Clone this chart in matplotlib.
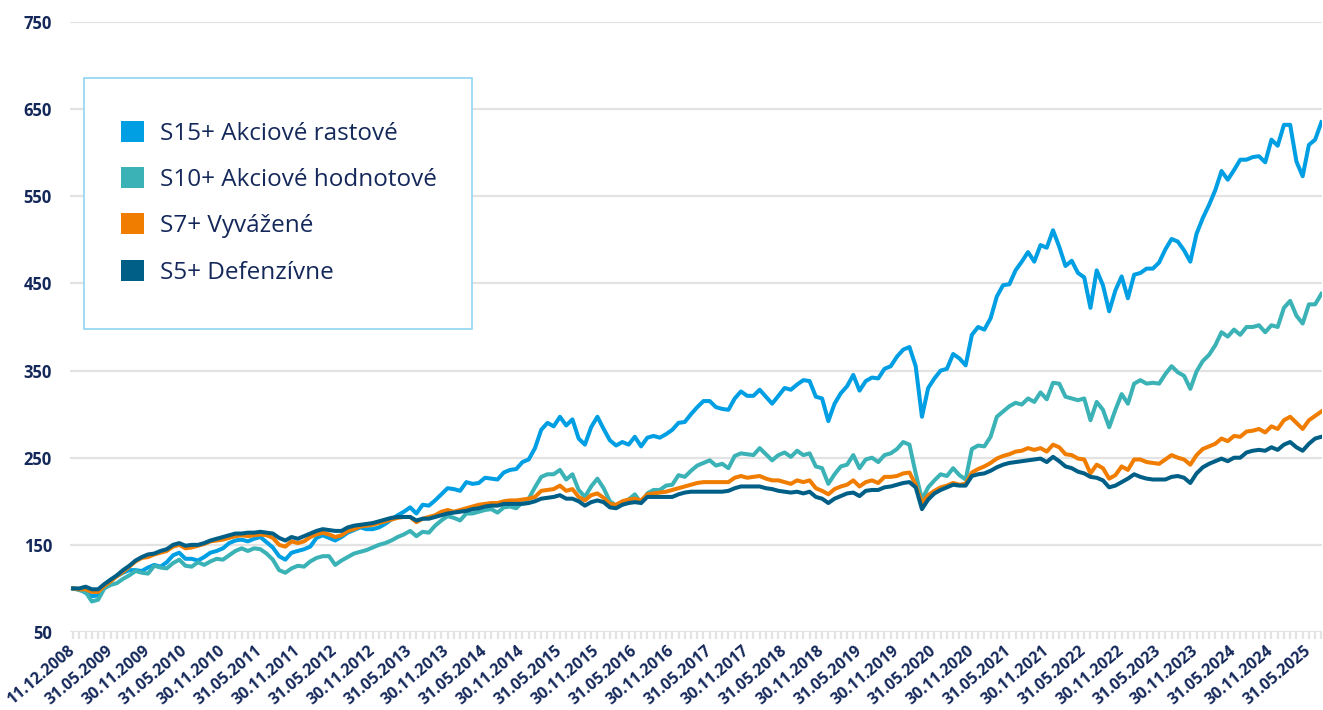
"""
plot.py - Vývoj hodnoty dôchodkových stratégií (index, 11.12.2008 = 100).
"""
import matplotlib
matplotlib.use("Agg")
import matplotlib.pyplot as plt
from matplotlib.patches import Patch, Rectangle
import numpy as np

# tick labels every 6 months (first point is 11.12.2008, then month ends)
tick_labels = [
    "11.12.2008", "31.05.2009", "30.11.2009", "31.05.2010", "30.11.2010",
    "31.05.2011", "30.11.2011", "31.05.2012", "30.11.2012", "31.05.2013",
    "30.11.2013", "31.05.2014", "30.11.2014", "31.05.2015", "30.11.2015",
    "31.05.2016", "30.11.2016", "31.05.2017", "30.11.2017", "31.05.2018",
    "30.11.2018", "31.05.2019", "30.11.2019", "31.05.2020", "30.11.2020",
    "31.05.2021", "30.11.2021", "31.05.2022", "30.11.2022", "31.05.2023",
    "30.11.2023", "31.05.2024", "30.11.2024", "31.05.2025",
]
y_ticks = [50, 150, 250, 350, 450, 550, 650, 750]

series_names = ["S15+ Akciové rastové", "S10+ Akciové hodnotové",
                "S7+ Vyvážené", "S5+ Defenzívne"]

s15 = [
    100, 99, 95, 91, 92, 104, 110, 114, 118, 121,
    121, 120, 124, 127, 125, 130, 138, 141, 134, 134,
    132, 136, 141, 143, 146, 152, 155, 156, 154, 157,
    159, 153, 147, 137, 133, 141, 143, 145, 148, 158,
    161, 158, 155, 159, 164, 167, 170, 168, 168, 170,
    174, 179, 184, 188, 193, 186, 196, 195, 201, 208,
    215, 214, 212, 222, 220, 221, 227, 226, 225, 233,
    236, 237, 245, 248, 261, 282, 290, 286, 297, 287,
    294, 272, 265, 285, 297, 283, 270, 264, 268, 265,
    274, 263, 273, 275, 273, 277, 282, 290, 291, 300,
    308, 315, 315, 308, 306, 305, 318, 326, 321, 321,
    328, 320, 312, 321, 330, 328, 334, 339, 338, 320,
    318, 292, 312, 324, 332, 345, 327, 338, 342, 341,
    352, 355, 366, 374, 377, 355, 297, 330, 341, 350,
    352, 369, 364, 356, 391, 400, 397, 410, 435, 448,
    449, 465, 475, 486, 475, 494, 491, 511, 492, 470,
    476, 462, 457, 422, 465, 448, 418, 442, 458, 433,
    460, 462, 467, 467, 474, 489, 501, 498, 488, 475,
    507, 525, 540, 557, 579, 569, 580, 592, 592, 595,
    596, 589, 615, 608, 632, 632, 590, 573, 609, 615,
    635,
]

s10 = [
    100, 98, 96, 85, 87, 100, 104, 106, 111, 115,
    120, 118, 117, 126, 124, 123, 129, 133, 126, 125,
    130, 127, 131, 134, 133, 138, 143, 146, 143, 146,
    145, 140, 133, 121, 118, 123, 126, 125, 131, 135,
    137, 137, 127, 132, 136, 140, 142, 144, 147, 150,
    152, 155, 159, 162, 166, 160, 165, 164, 172, 178,
    183, 181, 178, 186, 186, 188, 190, 191, 187, 193,
    194, 192, 199, 203, 216, 228, 231, 231, 236, 225,
    231, 213, 205, 217, 226, 215, 200, 195, 199, 202,
    208, 198, 209, 213, 213, 218, 219, 230, 228, 235,
    241, 244, 247, 241, 243, 238, 252, 255, 254, 253,
    261, 254, 247, 253, 256, 251, 258, 253, 255, 240,
    238, 220, 231, 240, 242, 253, 238, 248, 250, 245,
    253, 255, 260, 268, 265, 232, 202, 216, 224, 231,
    229, 238, 230, 225, 260, 264, 263, 274, 297, 303,
    309, 313, 311, 318, 314, 325, 317, 336, 335, 320,
    318, 316, 318, 293, 314, 305, 285, 305, 323, 312,
    335, 339, 335, 336, 335, 346, 355, 348, 344, 329,
    349, 361, 368, 379, 394, 389, 397, 391, 400, 400,
    402, 394, 402, 400, 422, 430, 413, 404, 426, 426,
    438,
]

s7 = [
    100, 99, 99, 96, 96, 103, 108, 114, 119, 125,
    131, 135, 136, 139, 141, 143, 148, 150, 146, 147,
    149, 151, 154, 155, 156, 158, 160, 161, 160, 161,
    162, 161, 158, 150, 148, 154, 152, 154, 159, 162,
    164, 162, 159, 161, 166, 168, 171, 172, 173, 175,
    177, 179, 181, 182, 182, 176, 180, 182, 184, 188,
    190, 188, 190, 192, 194, 196, 197, 198, 198, 200,
    201, 201, 202, 203, 205, 212, 213, 214, 218, 212,
    214, 205, 201, 207, 209, 204, 197, 196, 200, 202,
    203, 201, 208, 209, 210, 211, 213, 215, 217, 219,
    221, 222, 222, 222, 222, 222, 227, 229, 227, 228,
    229, 226, 224, 224, 222, 220, 224, 222, 224, 215,
    212, 208, 214, 217, 219, 224, 217, 222, 224, 221,
    228, 228, 229, 232, 233, 219, 198, 207, 212, 216,
    218, 221, 219, 220, 233, 237, 240, 244, 249, 252,
    254, 257, 258, 261, 259, 261, 257, 265, 262, 254,
    253, 249, 248, 232, 242, 238, 226, 230, 240, 236,
    248, 248, 245, 244, 243, 248, 253, 250, 248, 242,
    253, 260, 263, 266, 272, 269, 275, 274, 280, 281,
    283, 279, 286, 283, 293, 297, 290, 283, 293, 298,
    303,
]

s5 = [
    100, 100, 102, 99, 99, 105, 110, 115, 121, 126,
    132, 136, 139, 140, 143, 145, 150, 152, 149, 150,
    150, 152, 155, 157, 159, 161, 163, 163, 164, 164,
    165, 164, 163, 158, 155, 159, 157, 160, 163, 166,
    168, 167, 166, 166, 170, 172, 173, 174, 175, 177,
    179, 181, 182, 182, 182, 178, 180, 180, 182, 184,
    186, 187, 188, 189, 191, 192, 194, 195, 195, 197,
    197, 197, 197, 198, 200, 203, 204, 205, 207, 203,
    203, 200, 195, 199, 201, 199, 193, 192, 196, 198,
    199, 198, 205, 205, 205, 205, 205, 208, 210, 211,
    211, 211, 211, 211, 211, 212, 215, 217, 217, 217,
    217, 215, 214, 212, 211, 210, 211, 209, 211, 205,
    203, 198, 203, 206, 209, 210, 206, 212, 213, 213,
    216, 217, 219, 221, 222, 216, 191, 202, 209, 213,
    216, 219, 218, 218, 229, 231, 232, 235, 239, 242,
    244, 245, 246, 247, 248, 249, 245, 251, 246, 240,
    238, 234, 232, 228, 227, 224, 216, 218, 222, 226,
    231, 228, 226, 225, 225, 225, 228, 229, 227, 221,
    232, 239, 243, 246, 249, 246, 250, 250, 256, 258,
    259, 258, 262, 259, 265, 268, 262, 258, 266, 272,
    274,
]

colors = ["#009fe3", "#3ab2b6", "#f07d00", "#005f87"]
navy = "#14285a"
grid_col = "#e3e3e3"

plt.rcParams["font.family"] = ["Open Sans", "DejaVu Sans"]

W, H = 1323, 710
fig = plt.figure(figsize=(W / 100, H / 100), dpi=100)
ax = fig.add_axes([70 / W, 1 - 632 / H, 1252 / W, 610 / H])

x = np.arange(len(s15))
for vals, col in zip([s15, s10, s7, s5], colors):
    ax.plot(x, vals, color=col, lw=2.9, solid_joinstyle="round", zorder=3)

ax.set_ylim(50, 750)
ax.set_xlim(-0.5, len(s15) - 0.9)
ax.set_yticks(y_ticks, labels=[str(v) for v in y_ticks],
              fontsize=12, fontweight="bold", color=navy)
ax.yaxis.grid(True, color=grid_col, lw=1.6, zorder=0)
ax.set_axisbelow(True)
for side in ["top", "right", "left", "bottom"]:
    ax.spines[side].set_visible(False)

ax.set_xticks(np.arange(0, 6 * len(tick_labels), 6))
ax.set_xticklabels(tick_labels, rotation=40, ha="right", va="center",
                   rotation_mode="anchor", fontsize=11.5, fontweight="bold",
                   color=navy)
ax.set_xticks(x, minor=True)
ax.tick_params(axis="x", which="both", length=5, width=1.6, color=grid_col, pad=7)
ax.tick_params(axis="y", length=0, pad=13)

# legend box drawn separately so its size matches the original panel
fig.patches.append(Rectangle((84 / W, 1 - 329 / H), 388 / W, 251 / H,
                             transform=fig.transFigure, facecolor="white",
                             edgecolor="#8fd6f2", lw=1.2, zorder=5))
handles = [Patch(facecolor=c, edgecolor="none") for c in colors]
leg = fig.legend(handles, series_names, loc="upper left",
                 bbox_to_anchor=(121 / W, 1 - 121 / H),
                 fontsize=17.5, frameon=False,
                 borderpad=0, labelspacing=0.88, handlelength=0.95,
                 handleheight=0.95, handletextpad=0.65, borderaxespad=0)
leg.set_zorder(6)
for t in leg.get_texts():
    t.set_color(navy)

fig.savefig("out.png", dpi=100)
